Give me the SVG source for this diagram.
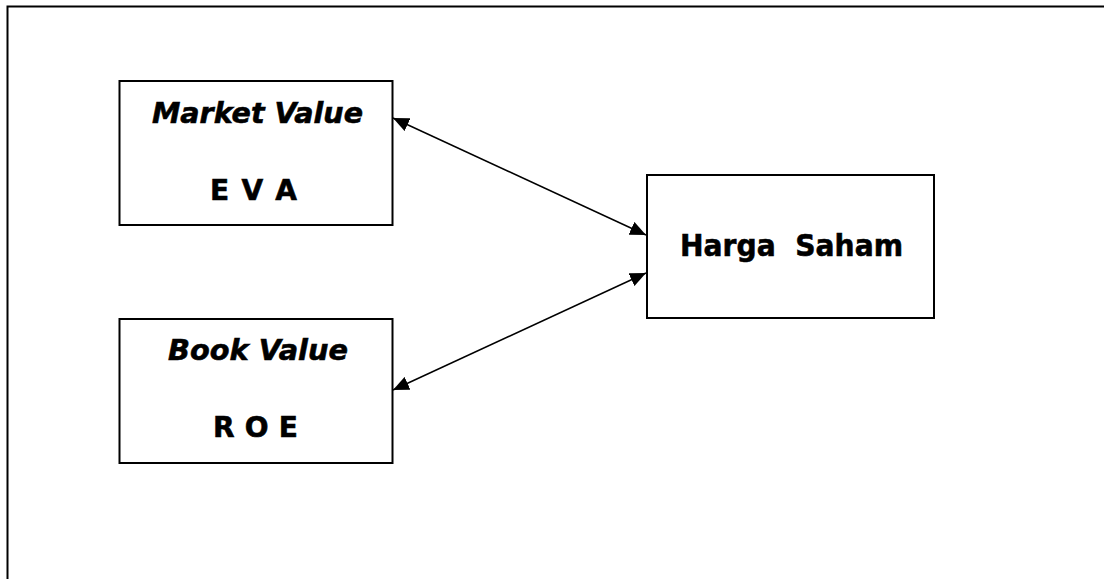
<svg xmlns="http://www.w3.org/2000/svg" width="1104" height="579" viewBox="0 0 1104 579">
  <style>
    .frame { fill: none; stroke: #000; stroke-width: 2; }
    .box { fill: #fff; stroke: #000; stroke-width: 2; }
    .link { fill: none; stroke: #000; stroke-width: 1.5; }
    .lbl { font-family: "DejaVu Sans", Verdana, sans-serif; font-weight: bold; fill: #000; stroke: #000; stroke-width: 0.6; }
    .it { font-style: italic; }
  </style>
  <defs>
    <marker id="head" markerUnits="userSpaceOnUse" markerWidth="17" markerHeight="14" refX="16" refY="7" orient="auto-start-reverse">
      <path d="M0,0 L16,7 L0,14 z" fill="#000"/>
    </marker>
  </defs>
  <rect width="1104" height="579" fill="#fff"/>
  <!-- page frame, open on the right and bottom -->
  <path class="frame" d="M7.5,590 V6.5 H1110"/>

  <g id="connectors">
    <line class="link" x1="393" y1="118" x2="646" y2="235" marker-start="url(#head)" marker-end="url(#head)"/>
    <line class="link" x1="646" y1="273" x2="393" y2="390" marker-start="url(#head)" marker-end="url(#head)"/>
  </g>

  <g id="market-value">
    <rect class="box" x="119.5" y="81" width="273" height="144"/>
    <text class="lbl it" x="152" y="123" font-size="29" textLength="211" lengthAdjust="spacingAndGlyphs">Market Value</text>
    <text class="lbl" x="210" y="200" font-size="28" textLength="87" lengthAdjust="spacing" xml:space="preserve">E V A</text>
  </g>

  <g id="book-value">
    <rect class="box" x="119.5" y="319" width="273" height="144"/>
    <text class="lbl it" x="168" y="360" font-size="29" textLength="180" lengthAdjust="spacingAndGlyphs">Book Value</text>
    <text class="lbl" x="213" y="437" font-size="28" textLength="85" lengthAdjust="spacing" xml:space="preserve">R O E</text>
  </g>

  <g id="harga-saham">
    <rect class="box" x="647" y="175" width="287" height="143"/>
    <text class="lbl" x="680" y="256" font-size="31" textLength="223" lengthAdjust="spacingAndGlyphs" xml:space="preserve">Harga  Saham</text>
  </g>
</svg>
